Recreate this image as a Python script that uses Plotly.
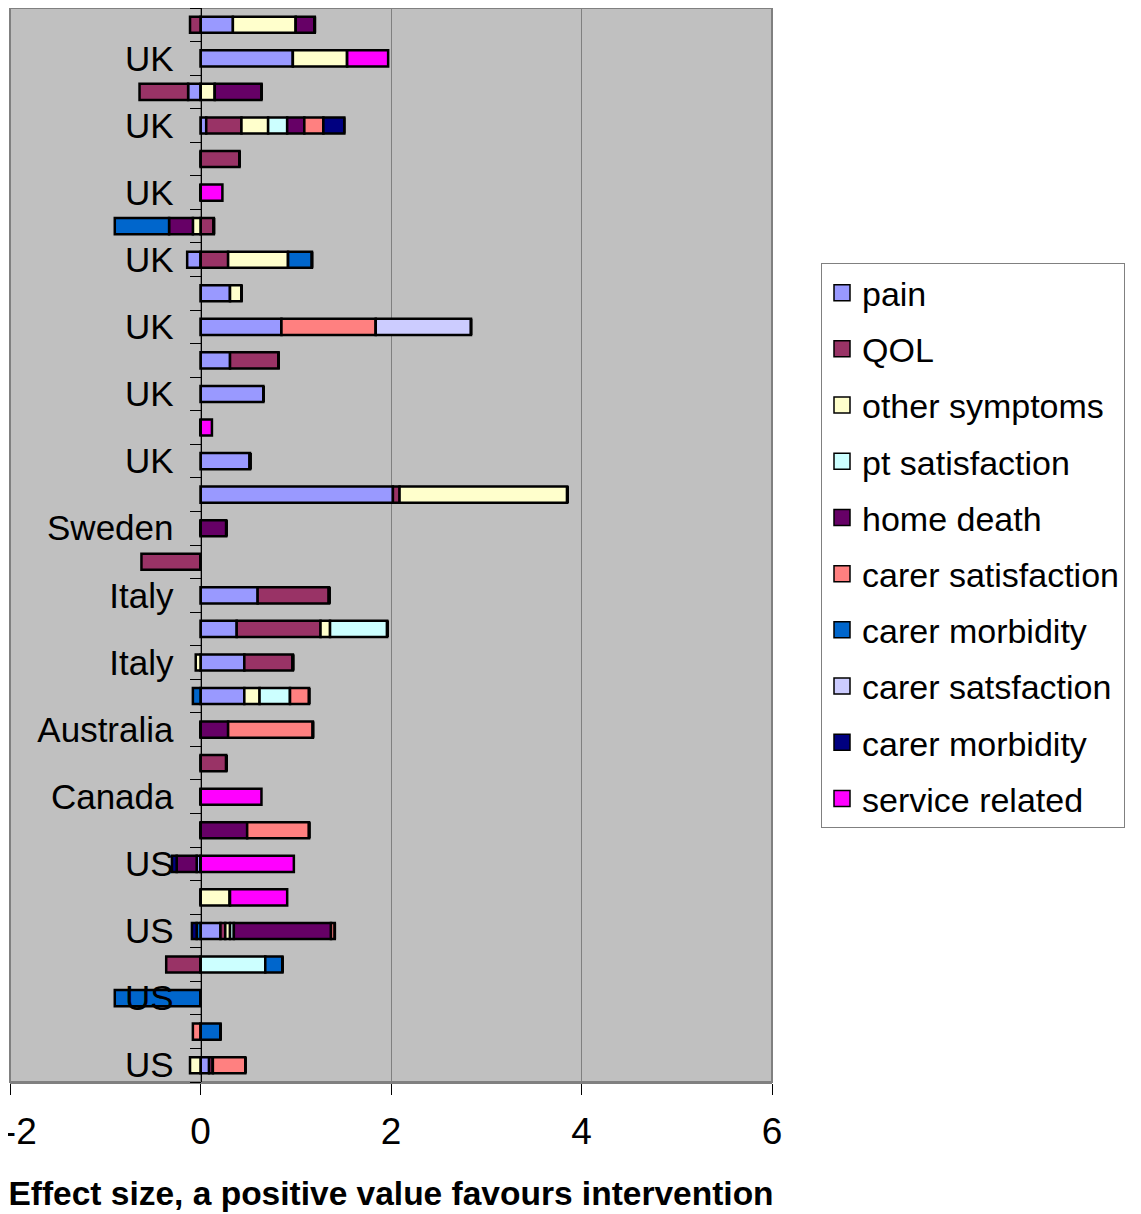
import plotly.graph_objects as go

# Rows from top (1) to bottom (32)
rows = list(range(1, 33))
row_labels = ["", "UK", "", "UK", "", "UK", "", "UK", "", "UK", "", "UK", "", "UK", "", "Sweden",
              "", "Italy", "", "Italy", "", "Australia", "", "Canada", "", "US", "", "US", "", "US", "", "US"]

series_names = ["pain", "QOL", "other symptoms", "pt satisfaction", "home death",
                "carer satisfaction", "carer morbidity", "carer satsfaction", "carer morbidity",
                "service related"]
series_colors = ["#9999FF", "#993366", "#FFFFCC", "#CCFFFF", "#660066",
                 "#FF8080", "#0066CC", "#CCCCFF", "#000080", "#FF00FF"]

pain = [0.34, 0.97, -0.13, 0.06, 0, 0, 0, -0.14, 0.31, 0.85, 0.31, 0.66, 0, 0.52, 2.02, 0,
        0, 0.60, 0.38, 0.46, 0.46, 0, 0, 0, 0, -0.04, 0, 0.21, 0, 0, 0, 0.09]
qol = [-0.11, 0, -0.51, 0.37, 0.41, 0, 0.14, 0.29, 0, 0, 0.51, 0, 0, 0, 0.07, 0,
       -0.62, 0.75, 0.88, 0.51, 0, 0, 0.27, 0, 0, 0, 0, 0.05, -0.36, 0, 0, 0.04]
other_symptoms = [0.66, 0.57, 0.15, 0.28, 0, 0, -0.08, 0.63, 0.12, 0, 0, 0, 0, 0, 1.76, 0,
                  0, 0, 0.10, -0.05, 0.16, 0, 0, 0, 0, 0, 0.31, 0.05, 0, 0, 0, -0.11]
pt_satisfaction = [0, 0, 0, 0.20, 0, 0, 0, 0, 0, 0, 0, 0, 0, 0, 0, 0,
                   0, 0, 0.60, 0, 0.32, 0, 0, 0, 0, 0, 0, 0.04, 0.68, 0, 0, 0]
home_death = [0.20, 0, 0.49, 0.18, 0, 0, -0.25, 0, 0, 0, 0, 0, 0, 0, 0, 0.27,
              0, 0, 0, 0, 0, 0.29, 0, 0, 0.49, -0.21, 0, 1.02, 0, 0, 0, 0]
carer_satisfaction = [0, 0, 0, 0.20, 0, 0, 0, 0, 0, 0.99, 0, 0, 0, 0, 0, 0,
                      0, 0, 0, 0, 0.20, 0.89, 0, 0, 0.65, 0, 0, 0.04, 0, 0, -0.08, 0.34]
carer_morbidity = [0, 0, 0, 0, 0, 0, -0.57, 0.25, 0, 0, 0, 0, 0, 0, 0, 0,
                   0, 0, 0, 0, -0.08, 0, 0, 0, 0, 0, 0, -0.04, 0.18, -0.90, 0.21, 0]
carer_satsfaction = [0, 0, 0, 0, 0, 0, 0, 0, 0, 1.00, 0, 0, 0, 0, 0, 0,
                     0, 0, 0, 0, 0, 0, 0, 0, 0, 0, 0, 0, 0, 0, 0, 0]
carer_morbidity2 = [0, 0, 0, 0.22, 0, 0, 0, 0, 0, 0, 0, 0, 0, 0, 0, 0,
                    0, 0, 0, 0, 0, 0, 0, 0, 0, -0.05, 0, -0.05, 0, 0, 0, 0]
service_related = [0, 0.43, 0, 0, 0, 0.23, 0, 0, 0, 0, 0, 0, 0.12, 0, 0, 0,
                   0, 0, 0, 0, 0, 0, 0, 0.64, 0, 0.98, 0.60, 0, 0, 0, 0, 0]

series_values = [pain, qol, other_symptoms, pt_satisfaction, home_death,
                 carer_satisfaction, carer_morbidity, carer_satsfaction, carer_morbidity2,
                 service_related]

x_ticks = [-2, 0, 2, 4, 6]
# leading no-break spaces keep the "-2" at the left edge inside the page
x_ticktext = ["\u00a0\u00a0-2", "0", "2", "4", "6"]

FONT = "Liberation Sans, Arial, sans-serif"

fig = go.Figure()
for i, (name, color, vals) in enumerate(zip(series_names, series_colors, series_values)):
    fig.add_trace(go.Bar(
        y=rows, x=vals, orientation="h", name=name, width=0.48,
        marker=dict(color=color, line=dict(color="black", width=2.5)),
        showlegend=False, legendgroup=f"g{i}",
    ))
# legend entries
for i, (name, color) in enumerate(zip(series_names, series_colors)):
    fig.add_trace(go.Scatter(
        x=[None], y=[None], mode="markers", name=name, legendgroup=f"g{i}",
        marker=dict(symbol="square", size=20, color=color, line=dict(color="black", width=1.5)),
    ))

fig.update_layout(
    width=1133, height=1206,
    margin=dict(l=2, r=369, t=0, b=132, autoexpand=False),
    barmode="relative",
    paper_bgcolor="white",
    plot_bgcolor="#C0C0C0",
    font=dict(family=FONT, color="black"),
    xaxis=dict(
        range=[-2, 6], tickmode="array", tickvals=x_ticks, ticktext=x_ticktext,
        showgrid=True, gridcolor="#808080", gridwidth=1, zeroline=False,
        showline=True, linecolor="#808080", linewidth=2,
        ticks="outside", ticklen=11, tickcolor="black", tickwidth=1,
        tickfont=dict(size=37), ticklabelstandoff=5, ticklabeloverflow="allow",
        title=dict(text="<b>Effect size, a positive value favours intervention</b>",
                   font=dict(size=33.5), standoff=30),
        domain=[0, 1],
    ),
    yaxis=dict(
        range=[32.5, 0.5], anchor="free", position=0.25,
        tickmode="array", tickvals=rows, ticktext=row_labels,
        ticks="", showgrid=False, zeroline=False,
        showline=True, linecolor="black", linewidth=1,
        tickfont=dict(size=35), ticklabelstandoff=20,
        minor=dict(tickmode="array", tickvals=[r + 0.5 for r in [0] + rows],
                   ticks="outside", ticklen=11, tickcolor="black", tickwidth=1, showgrid=False),
    ),
    legend=dict(
        x=1.0643, y=0.7625, xanchor="left", yanchor="top",
        bgcolor="white", bordercolor="#808080", borderwidth=1,
        font=dict(size=34, family=FONT), traceorder="grouped", tracegroupgap=9,
        itemsizing="trace",
    ),
    shapes=[dict(type="rect", xref="paper", yref="paper", x0=0, x1=1, y0=0, y1=1,
                 line=dict(color="#808080", width=2), fillcolor="rgba(0,0,0,0)", layer="below")],
)

fig.write_html("out.html")
